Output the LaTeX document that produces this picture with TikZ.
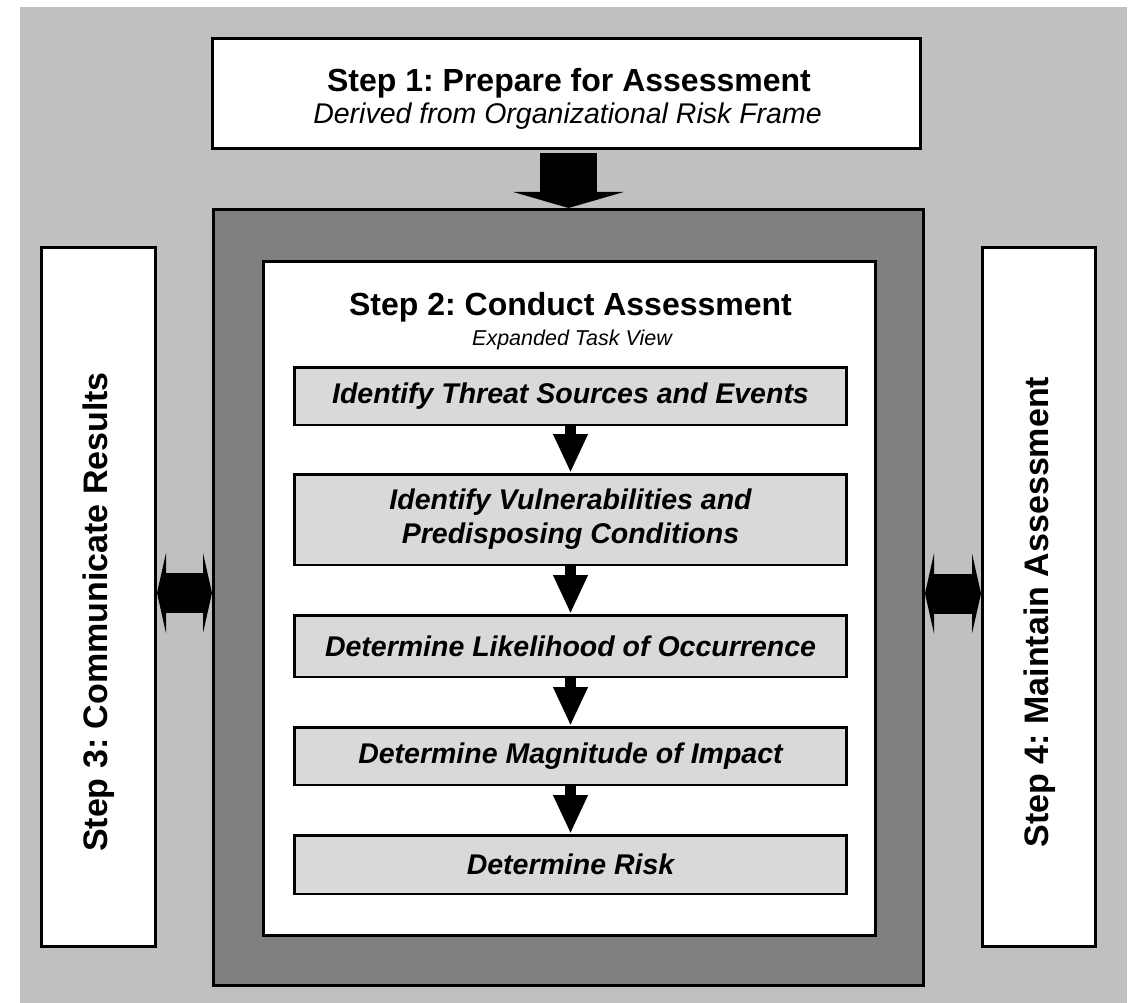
\documentclass[tikz,border=0pt]{standalone}
\usepackage{fontspec}
\setmainfont{Liberation Sans}
\usetikzlibrary{arrows.meta}
\definecolor{bggray}{HTML}{C0C0C0}
\definecolor{framegray}{HTML}{808080}
\definecolor{taskgray}{HTML}{D9D9D9}
\frenchspacing
\begin{document}
\begin{tikzpicture}[x=1pt,y=-1pt,
  box/.style={draw=black, line width=3pt, inner sep=0pt, fill=white},
  taskbox/.style={draw=black, line width=2.5pt, fill=taskgray, minimum width=552pt, inner sep=0pt, align=center, font=\fontsize{28.5}{34}\selectfont\bfseries\itshape},
  bigtitle/.style={font=\fontsize{32}{37}\selectfont\bfseries, inner sep=0pt},
  sidetitle/.style={font=\fontsize{34}{39}\selectfont\bfseries, inner sep=0pt, rotate=90},
  smallarrow/.style={draw=black, line width=11pt, -{Triangle[width=32pt,length=39pt]}},
  toparrow/.style={draw=black, line width=57pt, -{Triangle[width=110pt,length=16pt]}},
  sidearrow/.style={draw=black, line width=40pt, {Triangle[width=80pt,length=9pt]}-{Triangle[width=80pt,length=9pt]}}
]
\useasboundingbox (0,0) rectangle (1132,1003);
\fill[bggray] (20,7) rectangle (1127,1003);

% Step 1
\node[box, minimum width=708pt, minimum height=110pt] (s1) at (566.5,93.5) {};
\node[bigtitle, anchor=base] (s1title) at (569,92) {Step 1: Prepare for Assessment};
\node[font=\fontsize{28.5}{33}\selectfont\itshape, inner sep=0pt, anchor=base] (s1sub) at (567.5,124) {Derived from Organizational Risk Frame};

% Step 2 frame
\node[draw=black, line width=3pt, fill=framegray, minimum width=710pt, minimum height=776pt, inner sep=0pt] (frame) at (568.5,597.5) {};
\node[box, minimum width=612pt, minimum height=674pt] (inner) at (569.5,598.5) {};
\node[bigtitle, anchor=base] (s2title) at (570.5,315) {Step 2: Conduct Assessment};
\node[font=\fontsize{21.5}{25}\selectfont\itshape, inner sep=0pt, anchor=base] (s2sub) at (572,345) {Expanded Task View};

% Task boxes
\node[taskbox, minimum height=57.5pt] (b1) at (570.5,396) {Identify Threat Sources and Events};
\node[taskbox, minimum height=90.5pt] (b2) at (570.5,519.5) {Identify Vulnerabilities and\\Predisposing Conditions};
\node[taskbox, minimum height=61.5pt] (b3) at (570.5,646) {Determine Likelihood of Occurrence};
\node[taskbox, minimum height=57.5pt] (b4) at (570.5,756) {Determine Magnitude of Impact};
\node[taskbox, minimum height=58.5pt] (b5) at (570.5,864.5) {Determine Risk};

% Side boxes
\node[box, minimum width=114pt, minimum height=699pt] (s3) at (98.5,597) {};
\node[sidetitle] (s3title) at (98.5,612) {Step 3: Communicate Results};
\node[box, minimum width=113pt, minimum height=699pt] (s4) at (1039,597) {};
\node[sidetitle] (s4title) at (1040,612) {Step 4: Maintain Assessment};

% Arrows
\draw[toparrow, shorten <=3pt] (s1.south -| frame.north) -- (frame.north);
\draw[smallarrow] (b1.south) -- (b2.north);
\draw[smallarrow] (b2.south) -- (b3.north);
\draw[smallarrow] (b3.south) -- (b4.north);
\draw[smallarrow] (b4.south) -- (b5.north);
\draw[sidearrow] ([yshift=4pt]s3.east) -- ([yshift=4pt]s3.east -| frame.west);
\draw[sidearrow] ([yshift=4pt]frame.east) -- ([yshift=4pt]frame.east -| s4.west);
\end{tikzpicture}
\end{document}
